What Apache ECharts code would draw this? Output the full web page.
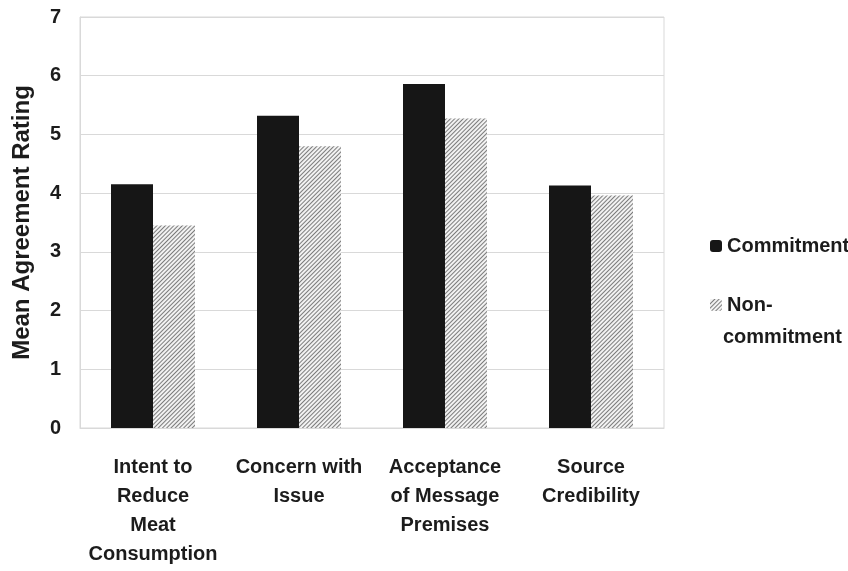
<!DOCTYPE html>
<html>
<head>
<meta charset="utf-8">
<script src="https://cdn.jsdelivr.net/npm/echarts@6/dist/echarts.min.js"></script>
<style>
  html, body { margin: 0; padding: 0; background: #fff; }
  #chart { width: 848px; height: 571px; }
</style>
</head>
<body>
<div id="chart"></div>
<script>
// categories and mean ratings
const categories = [
  "Intent to\nReduce\nMeat\nConsumption",
  "Concern with\nIssue",
  "Acceptance\nof Message\nPremises",
  "Source\nCredibility"
];
const commitment = [4.15, 5.32, 5.86, 4.13];
const nonCommitment = [3.45, 4.80, 5.27, 3.96];
const yTicks = { min: 0, max: 7, step: 1 };

const font = "'Liberation Sans', Arial, sans-serif";
const ink = "#1c1c1c";
const gridGray = "#d9d9d9";

let chart = echarts.init(document.getElementById("chart"));
chart.setOption({
  animation: false,
  backgroundColor: "#fff",
  grid: { left: 80, right: 184, top: 17, bottom: 143, show: true, borderColor: gridGray, borderWidth: 1 },
  legend: {
    orient: "vertical",
    left: 705,
    top: 231,
    itemWidth: 12,
    itemHeight: 12,
    itemGap: 39,
    data: ["Commitment", "Non-commitment"],
    // second label wraps; its first line sits beside the icon
    formatter: function (n) {
      return n === "Non-commitment" ? "Non-" : n;
    },
    textStyle: { fontFamily: font, fontWeight: "bold", fontSize: 20, color: ink, lineHeight: 20 }
  },
  graphic: [
    {
      type: "text",
      left: 723,
      top: 327,
      style: { text: "commitment", fontFamily: font, fontWeight: "bold", fontSize: 20, fill: ink }
    }
  ],
  xAxis: {
    type: "category",
    data: categories,
    axisLine: { lineStyle: { color: gridGray } },
    axisTick: { show: false },
    axisLabel: {
      margin: 25,
      interval: 0,
      fontFamily: font,
      fontWeight: "bold",
      fontSize: 20,
      lineHeight: 29,
      color: ink
    }
  },
  yAxis: {
    type: "value",
    min: yTicks.min,
    max: yTicks.max,
    interval: yTicks.step,
    name: "Mean Agreement Rating",
    nameLocation: "middle",
    nameRotate: 90,
    nameGap: 46,
    nameTextStyle: { fontFamily: font, fontWeight: "bold", fontSize: 24, color: ink },
    axisLine: { show: true, lineStyle: { color: gridGray } },
    axisTick: { show: false },
    splitLine: { lineStyle: { color: gridGray } },
    axisLabel: { margin: 19, fontFamily: font, fontWeight: "bold", fontSize: 20, color: ink }
  },
  series: [
    {
      name: "Commitment",
      type: "bar",
      data: commitment,
      barWidth: 42,
      barGap: "0%",
      itemStyle: { color: "#161616" }
    },
    {
      name: "Non-commitment",
      type: "bar",
      data: nonCommitment,
      barWidth: 42,
      itemStyle: {
        color: "#f2f2f2",
        decal: {
          symbol: "rect",
          symbolSize: 1,
          dashArrayX: [1, 0],
          dashArrayY: [1, 2],
          rotation: -Math.PI / 4,
          color: "#7c7c7c"
        }
      }
    }
  ]
});
</script>
</body>
</html>
